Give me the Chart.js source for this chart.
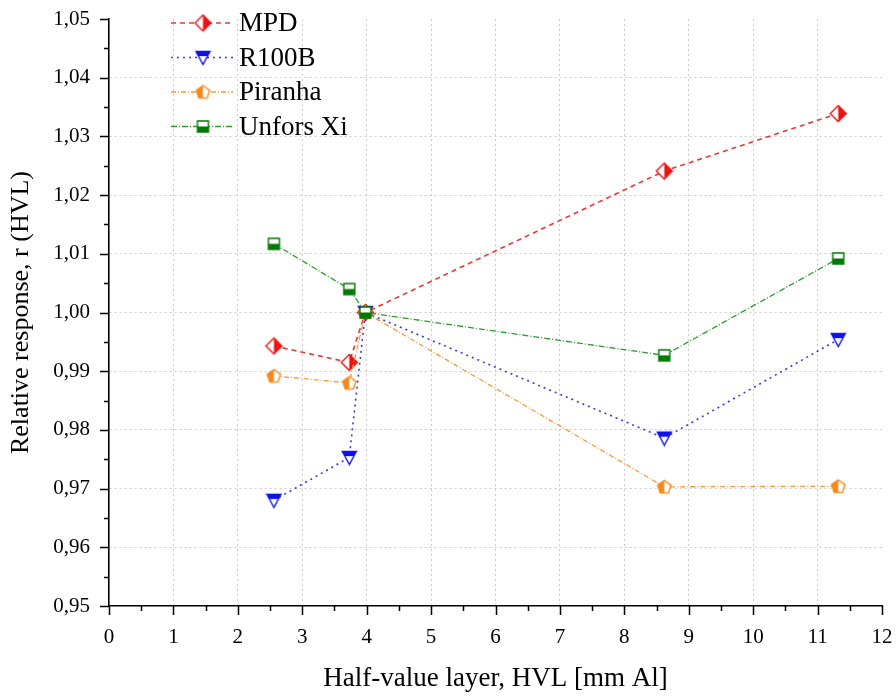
<!DOCTYPE html>
<html>
<head>
<meta charset="utf-8">
<script src="https://cdn.jsdelivr.net/npm/chart.js@4.4.0/dist/chart.umd.min.js"></script>
<style>
  html, body { margin: 0; padding: 0; background: #fff; }
  #wrap { width: 896px; height: 696px; }
</style>
</head>
<body>
<div id="wrap"><canvas id="hvlChart" width="896" height="696"></canvas></div>
<script>
// ---------------- DATA ----------------
const hvl = [2.56, 3.73, 3.98, 8.62, 11.32];
const mpd = [0.9943, 0.9915, 1.0000, 1.0241, 1.0339];
const r100b = [0.9680, 0.9753, 1.0000, 0.9786, 0.9954];
const piranha = [0.9892, 0.9880, 1.0000, 0.9703, 0.9704];
const unfors = [1.0117, 1.0040, 1.0000, 0.9927, 1.0092];

const xTickLabels = ["0", "1", "2", "3", "4", "5", "6", "7", "8", "9", "10", "11", "12"];
const yTickLabels = ["0,95", "0,96", "0,97", "0,98", "0,99", "1,00", "1,01", "1,02", "1,03", "1,04", "1,05"];

const serif = "'Liberation Serif', 'Times New Roman', serif";

// ---------------- MARKERS (half filled, like Origin) ----------------
function makeMarker(shape, color, size) {
  const c = document.createElement("canvas");
  c.width = size; c.height = size;
  const g = c.getContext("2d");
  const s = size, m = 1.5, h = s / 2;
  g.beginPath();
  if (shape === "diamond") {
    g.moveTo(h, m); g.lineTo(s - m, h); g.lineTo(h, s - m); g.lineTo(m, h);
  } else if (shape === "triangle") {
    g.moveTo(m, m + 1); g.lineTo(s - m, m + 1); g.lineTo(h, s - m);
  } else if (shape === "pentagon") {
    const r = h - m;
    for (let k = 0; k < 5; k++) {
      const a = -Math.PI / 2 + k * 2 * Math.PI / 5;
      const px = h + r * Math.cos(a), py = h + 0.5 + r * Math.sin(a);
      k ? g.lineTo(px, py) : g.moveTo(px, py);
    }
  } else {
    g.rect(m + 0.5, m + 0.5, s - 2 * m - 1, s - 2 * m - 1);
  }
  g.closePath();
  g.fillStyle = "#fff";
  g.fill();
  g.save();
  g.clip();
  g.fillStyle = color;
  if (shape === "diamond") g.fillRect(h, 0, h, s);
  else if (shape === "triangle") g.fillRect(0, 0, s, m + 1 + (s - 2 * m) * 0.33);
  else if (shape === "pentagon") g.fillRect(0, 0, h, s);
  else g.fillRect(0, h, s, h);
  g.restore();
  g.lineWidth = 1.4;
  g.strokeStyle = color;
  g.stroke();
  return c;
}

const markers = {
  mpd: makeMarker("diamond", "#ee1111", 19),
  r100b: makeMarker("triangle", "#1010ee", 17),
  piranha: makeMarker("pentagon", "#f58a1f", 17),
  unfors: makeMarker("square", "#007a00", 15)
};

function pts(ys) {
  return hvl.map((x, i) => ({ x, y: ys[i] }));
}

// ---------------- PLUGINS ----------------
const tickMarks = {
  id: "tickMarks",
  afterDraw(chart) {
    const ctx = chart.ctx;
    const xs = chart.scales.x, ys = chart.scales.y;
    ctx.save();
    ctx.strokeStyle = "#000";
    ctx.lineWidth = 1.5;
    ctx.beginPath();
    xs.ticks.forEach(t => {
      const px = Math.round(xs.getPixelForValue(t.value)) + 0.5;
      const len = Number.isInteger(t.value) ? 9 : 5;
      ctx.moveTo(px, xs.top); ctx.lineTo(px, xs.top + len);
    });
    ys.ticks.forEach(t => {
      const py = Math.round(ys.getPixelForValue(t.value)) + 0.5;
      const len = Math.round(t.value * 1000) % 10 === 0 ? 9 : 5;
      ctx.moveTo(ys.right, py); ctx.lineTo(ys.right - len, py);
    });
    ctx.stroke();
    ctx.restore();
  }
};

const lineLegend = {
  id: "lineLegend",
  afterDraw(chart) {
    const ctx = chart.ctx;
    ctx.save();
    chart.data.datasets.forEach((ds, i) => {
      const y = 23 + i * 34.5;
      ctx.beginPath();
      ctx.strokeStyle = ds.borderColor;
      ctx.lineWidth = ds.borderWidth;
      ctx.setLineDash(ds.borderDash || []);
      ctx.moveTo(171, y); ctx.lineTo(233, y);
      ctx.stroke();
      ctx.setLineDash([]);
      const img = ds.pointStyle;
      ctx.drawImage(img, 203 - img.width / 2, y - img.height / 2);
      ctx.fillStyle = "#000";
      ctx.font = "27px " + serif;
      ctx.textBaseline = "middle";
      ctx.fillText(ds.label, 239, y + 1);
    });
    ctx.restore();
  }
};

// ---------------- CHART ----------------
new Chart(document.getElementById("hvlChart"), {
  type: "line",
  data: {
    datasets: [
      { label: "MPD", data: pts(mpd), borderColor: "#e8383a", borderWidth: 1.6, borderDash: [5, 4],
        pointStyle: markers.mpd, pointRadius: 8, order: 3 },
      { label: "R100B", data: pts(r100b), borderColor: "#3a3ad8", borderWidth: 1.6, borderDash: [2, 4],
        pointStyle: markers.r100b, pointRadius: 8, order: 2 },
      { label: "Piranha", data: pts(piranha), borderColor: "#f59a3a", borderWidth: 1.3, borderDash: [5, 2, 1, 2],
        pointStyle: markers.piranha, pointRadius: 8, order: 1 },
      { label: "Unfors Xi", data: pts(unfors), borderColor: "#2e9a2e", borderWidth: 1.3, borderDash: [6, 2, 1, 2],
        pointStyle: markers.unfors, pointRadius: 8, order: 0 }
    ]
  },
  options: {
    responsive: false,
    animation: false,
    layout: { padding: { left: 0, right: 14, top: 19, bottom: 0 } },
    elements: { line: { tension: 0, fill: false } },
    plugins: { legend: { display: false }, tooltip: { enabled: false } },
    scales: {
      x: {
        type: "linear", min: 0, max: 12,
        afterFit: s => { s.height = 90; s.paddingLeft = 0; s.paddingRight = 0; },
        ticks: {
          stepSize: 0.5, autoSkip: false, maxRotation: 0, padding: 19, color: "#000",
          font: { family: serif, size: 21 },
          callback: v => Number.isInteger(v) ? xTickLabels[v] : ""
        },
        grid: {
          drawTicks: false, lineWidth: 1,
          color: c => (c.tick && Number.isInteger(c.tick.value) && c.tick.value > 0 && c.tick.value < 12) ? "#cccccc" : "rgba(0,0,0,0)"
        },
        border: { display: true, color: "#000", width: 1.6, dash: [2, 3] },
        title: { display: true, text: "Half-value layer, HVL [mm Al]", color: "#000",
          font: { family: serif, size: 27 }, padding: { top: 0, bottom: 1 } }
      },
      y: {
        min: 0.95, max: 1.05,
        afterFit: s => { s.width = 109; s.paddingTop = 0; s.paddingBottom = 0; },
        ticks: {
          stepSize: 0.005, autoSkip: false, padding: 19, color: "#000",
          font: { family: serif, size: 21 },
          callback: v => {
            const k = Math.round(v * 1000);
            return k % 10 === 0 ? yTickLabels[(k - 950) / 10] : "";
          }
        },
        grid: {
          drawTicks: false, lineWidth: 1,
          color: c => {
            if (!c.tick) return "rgba(0,0,0,0)";
            const k = Math.round(c.tick.value * 1000);
            return (k % 10 === 0 && k > 950 && k < 1050) ? "#cccccc" : "rgba(0,0,0,0)";
          }
        },
        border: { display: true, color: "#000", width: 1.6, dash: [2, 3] },
        title: { display: true, text: "Relative response, r (HVL)", color: "#000",
          font: { family: serif, size: 26 }, padding: { top: 6, bottom: 0 } }
      }
    }
  },
  plugins: [tickMarks, lineLegend]
});
</script>
</body>
</html>
